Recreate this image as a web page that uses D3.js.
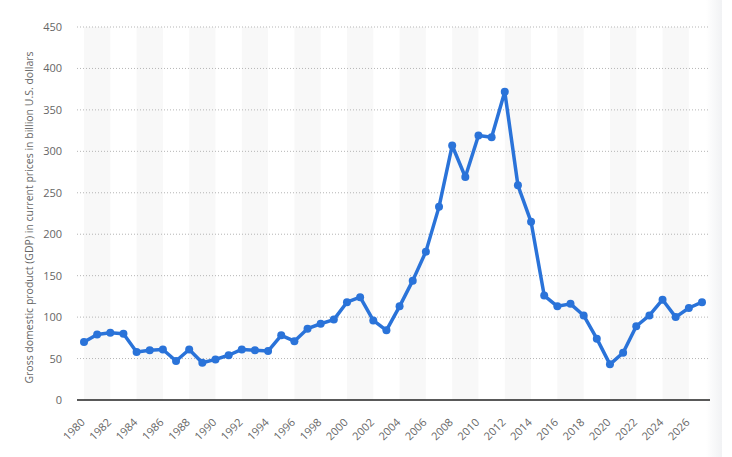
<!DOCTYPE html>
<html>
<head>
<meta charset="utf-8">
<script src="https://cdn.jsdelivr.net/npm/d3@7"></script>
<style>
  body { margin: 0; background: #fff; }
  svg { display: block; font-family: "Open Sans", sans-serif; }
</style>
</head>
<body>
<svg id="chart" width="732" height="457"></svg>
<script>
const years = d3.range(1980, 2028)
const gdp = [70, 79, 81, 80, 58, 60, 61, 47, 61, 45,
    49, 54, 61, 60, 59, 78, 71, 86, 92, 97,
    118, 124, 96, 84, 113, 144, 179, 233, 307, 269,
    319, 317, 372, 259, 215, 126, 113, 116, 102, 74,
    43, 57, 89, 102, 121, 100, 111, 118]
const yTicks = [0, 50, 100, 150, 200, 250, 300, 350, 400, 450]
const xTicks = years.filter(y => y % 2 == 0)

const svg = d3.select('#chart')
const plotLeft = 77, plotRight = 710

const x = d3.scaleLinear()
    .domain([1980, 2027])
    .range([84, 702])
const y = d3.scaleLinear()
    .domain([0, 450])
    .range([400, 27])

// soft shade on right edge
const grad = svg.append('defs').append('linearGradient')
    .attr('id', 'edge')
grad.append('stop').attr('offset', '0%').attr('stop-color', '#fff')
grad.append('stop').attr('offset', '100%').attr('stop-color', '#f1f2f4')
svg.append('rect')
    .attr('x', 706).attr('y', 0)
    .attr('width', 16).attr('height', 457)
    .attr('fill', 'url(#edge)')

// alternating bands
svg.append('g')
    .selectAll('rect')
    .data(years.filter(y => y % 4 == 0))
    .enter()
    .append('rect')
    .attr('x', d => x(d))
    .attr('y', y(450))
    .attr('width', x(1982) - x(1980))
    .attr('height', y(0) - y(450))
    .attr('fill', '#f8f8f8')

// gridlines
svg.append('g')
    .selectAll('line')
    .data(yTicks.slice(1))
    .enter()
    .append('line')
    .attr('x1', plotLeft)
    .attr('x2', plotRight)
    .attr('y1', d => y(d))
    .attr('y2', d => y(d))
    .attr('stroke', '#b5b5b5')
    .attr('stroke-width', 1)
    .attr('stroke-dasharray', '1,2')

// y axis
const yAxis = svg.append('g')
    .attr('transform', 'translate(62,0)')
    .call(d3.axisLeft(y).tickValues(yTicks).tickSize(0).tickPadding(0))
yAxis.select('.domain').remove()
yAxis.selectAll('text')
    .attr('fill', '#666')
    .attr('font-size', 11)
    .attr('font-family', '"Open Sans", sans-serif')

// x axis
const xAxis = svg.append('g')
    .attr('transform', `translate(0,${y(0)})`)
    .call(d3.axisBottom(x).tickValues(xTicks).tickFormat(d3.format('d')).tickSize(0))
xAxis.select('.domain').remove()
xAxis.selectAll('text')
    .attr('fill', '#666')
    .attr('font-size', 11)
    .attr('font-family', '"Open Sans", sans-serif')
    .attr('text-anchor', 'end')
    .attr('dy', 0)
    .attr('transform', 'translate(-1,21) rotate(-45)')

svg.append('line')
    .attr('x1', plotLeft).attr('x2', plotRight)
    .attr('y1', y(0)).attr('y2', y(0))
    .attr('stroke', '#222')
    .attr('stroke-width', 1.5)

// axis title
svg.append('text')
    .attr('transform', `translate(33,${(y(0) + y(450)) / 2 + 4}) rotate(-90)`)
    .attr('text-anchor', 'middle')
    .attr('fill', '#666')
    .attr('font-size', 10.5)
    .text('Gross domestic product (GDP) in current prices in billion U.S. dollars')

// line + dots
const data = years.map((yr, i) => ({year: yr, value: gdp[i]}))
const line = d3.line()
    .x(d => x(d.year))
    .y(d => y(d.value))

svg.append('path')
    .datum(data)
    .attr('d', line)
    .attr('fill', 'none')
    .attr('stroke', '#2a73d9')
    .attr('stroke-width', 3.5)
    .attr('stroke-linejoin', 'round')

svg.append('g')
    .selectAll('circle')
    .data(data)
    .enter()
    .append('circle')
    .attr('cx', d => x(d.year))
    .attr('cy', d => y(d.value))
    .attr('r', 4)
    .attr('fill', '#2a73d9')
</script>
</body>
</html>
